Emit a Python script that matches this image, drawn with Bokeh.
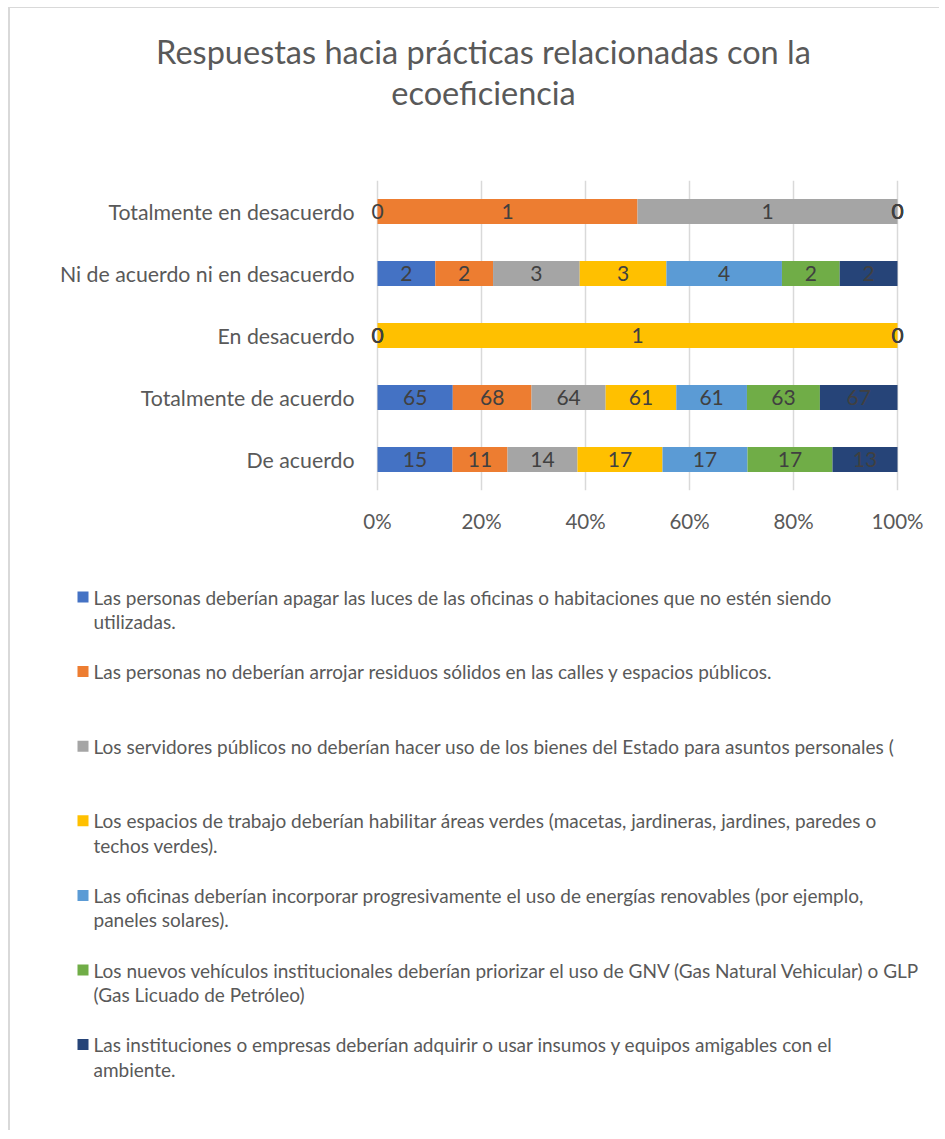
from bokeh.plotting import figure
from bokeh.layouts import column
from bokeh.models import Range1d, FactorRange, FixedTicker, NumeralTickFormatter, ColumnDataSource
from bokeh.core.properties import value
from bokeh.embed import file_html
from bokeh.resources import INLINE

# ---------------- data ----------------
categories = ["De acuerdo", "Totalmente de acuerdo", "En desacuerdo",
              "Ni de acuerdo ni en desacuerdo", "Totalmente en desacuerdo"]

series_names = [
    "Las personas deberían apagar las  luces de las oficinas o habitaciones que  no estén siendo utilizadas.",
    "Las personas no deberían arrojar  residuos sólidos en las calles y  espacios públicos.",
    "Los servidores públicos no deberían hacer  uso de los bienes del Estado para asuntos personales (",
    "Los espacios de trabajo deberían  habilitar áreas verdes (macetas,  jardineras, jardines, paredes o techos  verdes).",
    "Las oficinas deberían incorporar  progresivamente el uso de energías renovables (por ejemplo, paneles  solares).",
    "Los nuevos vehículos institucionales deberían  priorizar el uso de GNV (Gas Natural Vehicular) o GLP (Gas Licuado de Petróleo)",
    "Las instituciones o empresas deberían adquirir o usar insumos y equipos amigables con el ambiente.",
]
legend_lines = [
    ["Las personas deberían apagar las  luces de las oficinas o habitaciones que  no estén siendo", "utilizadas."],
    ["Las personas no deberían arrojar  residuos sólidos en las calles y  espacios públicos."],
    ["Los servidores públicos no deberían hacer  uso de los bienes del Estado para asuntos personales ("],
    ["Los espacios de trabajo deberían  habilitar áreas verdes (macetas,  jardineras, jardines, paredes o", "techos  verdes)."],
    ["Las oficinas deberían incorporar  progresivamente el uso de energías renovables (por ejemplo,", "paneles  solares)."],
    ["Los nuevos vehículos institucionales deberían  priorizar el uso de GNV (Gas Natural Vehicular) o GLP", "(Gas Licuado de Petróleo)"],
    ["Las instituciones o empresas deberían adquirir o usar insumos y equipos amigables con el", "ambiente."],
]

# values per series, in the order of `categories`
s1 = [15, 65, 0, 2, 0]
s2 = [11, 68, 0, 2, 1]
s3 = [14, 64, 0, 3, 1]
s4 = [17, 61, 1, 3, 0]
s5 = [17, 61, 0, 4, 0]
s6 = [17, 63, 0, 2, 0]
s7 = [13, 67, 0, 2, 0]
series_values = [s1, s2, s3, s4, s5, s6, s7]

colors = ["#4472C4", "#ED7D31", "#A5A5A5", "#FFC000", "#5B9BD5", "#70AD47", "#264478"]

title_lines = ["Respuestas hacia prácticas relacionadas con la", "ecoeficiencia"]
tick_values = [0, 0.2, 0.4, 0.6, 0.8, 1.0]

FONT = "Lato"
GREY = "#595959"
W = 929

# ---------------- title ----------------
TH = 139
pt = figure(width=W, height=TH, x_range=Range1d(0, W), y_range=Range1d(TH, 0),
            output_backend="svg", toolbar_location=None, min_border=0,
            x_axis_location=None, y_axis_location=None, outline_line_color=None,
            frame_align=False)
pt.grid.visible = False
pt.text(x=[473, 473], y=[43, 84], text=title_lines, text_align="center",
        text_baseline="middle", text_font=value(FONT), text_font_size="32.5px",
        text_color=GREY)

# ---------------- main chart ----------------
totals = [sum(s[i] for s in series_values) for i in range(len(categories))]
p = figure(width=W, height=400, y_range=FactorRange(*categories),
           x_range=Range1d(-0.025, 1.025), output_backend="svg",
           toolbar_location=None, min_border_left=354, min_border_right=29,
           min_border_top=33, min_border_bottom=57, outline_line_color=None,
           frame_align=False)

lefts = [0.0] * len(categories)
label_sources = []
for k, (vals, col) in enumerate(zip(series_values, colors)):
    frac = [v / t for v, t in zip(vals, totals)]
    left = list(lefts)
    right = [l + f for l, f in zip(left, frac)]
    src = ColumnDataSource(dict(y=categories, left=left, right=right,
                                mid=[(a + b) / 2 for a, b in zip(left, right)],
                                lab=[str(v) for v in vals]))
    p.hbar(y="y", left="left", right="right", height=0.4, source=src,
           fill_color=col, line_color=None)
    label_sources.append(src)
    lefts = right
for src in label_sources:
    p.text(x="mid", y="y", text="lab", source=src, text_align="center",
           text_baseline="middle", text_font=value(FONT), text_font_size="21px",
           text_color="#404040")

p.xaxis.ticker = FixedTicker(ticks=tick_values)
p.xaxis.formatter = NumeralTickFormatter(format="0%")
p.xaxis.axis_line_color = None
p.xaxis.major_tick_line_color = None
p.xaxis.minor_tick_line_color = None
p.xaxis.major_label_standoff = 12
p.yaxis.axis_line_color = None
p.yaxis.major_tick_line_color = None
p.yaxis.major_label_standoff = 4
p.yaxis.major_label_text_font_size = "21.3px"
p.xaxis.major_label_text_font_size = "20.5px"
for ax in (p.xaxis, p.yaxis):
    ax.major_label_text_font = FONT
    ax.major_label_text_color = GREY
p.xgrid.grid_line_color = "#D9D9D9"
p.xgrid.grid_line_width = 1.5
p.ygrid.grid_line_color = None

# ---------------- legend ----------------
LH = 583
pl = figure(width=W, height=LH, x_range=Range1d(0, W), y_range=Range1d(LH, 0),
            output_backend="svg", toolbar_location=None, min_border=0,
            x_axis_location=None, y_axis_location=None, outline_line_color=None,
            frame_align=False)
pl.grid.visible = False
y0, step, lstep = 49.5, 74.6, 24.5
mx, my, tx, ty, tt = [], [], [], [], []
for i, lines in enumerate(legend_lines):
    yy = y0 + i * step
    mx.append(72.5)
    my.append(yy)
    for j, line in enumerate(lines):
        tx.append(83)
        ty.append(yy + j * lstep)
        tt.append(line)
pl.rect(x=mx, y=my, width=11, height=11, fill_color=colors, line_color=None)
pl.text(x=tx, y=ty, text=tt, text_align="left", text_baseline="middle",
        text_font=value(FONT), text_font_size="19px", text_color=GREY)

layout = column(pt, p, pl, margin=(7, 0, 0, 8),
                styles={"border-top": "1px solid #D9D9D9", "border-left": "2px solid #D9D9D9"})
open("out.html", "w").write(file_html(layout, INLINE))
